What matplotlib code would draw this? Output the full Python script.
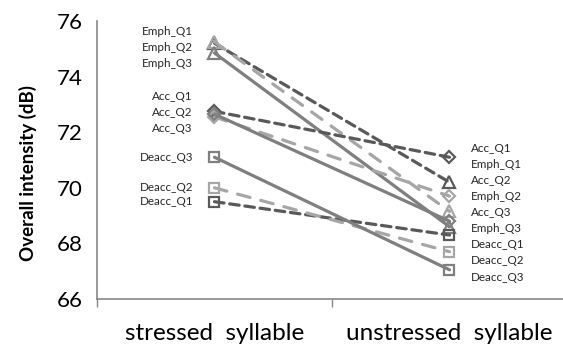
import matplotlib
matplotlib.use("Agg")
import matplotlib.pyplot as plt

# ───────────── data ─────────────
categories = ["stressed  syllable", "unstressed  syllable"]

emph_q1 = [75.2, 70.2]
emph_q2 = [75.25, 69.15]
emph_q3 = [74.85, 68.6]
acc_q1 = [72.75, 71.1]
acc_q2 = [72.55, 69.7]
acc_q3 = [72.65, 68.8]
deacc_q1 = [69.5, 68.3]
deacc_q2 = [70.0, 67.7]
deacc_q3 = [71.1, 67.05]

series = {
    "Emph_Q1": emph_q1, "Emph_Q2": emph_q2, "Emph_Q3": emph_q3,
    "Acc_Q1": acc_q1, "Acc_Q2": acc_q2, "Acc_Q3": acc_q3,
    "Deacc_Q1": deacc_q1, "Deacc_Q2": deacc_q2, "Deacc_Q3": deacc_q3,
}

# ───────────── styles ─────────────
DARK, LIGHT, MID = "#595959", "#a6a6a6", "#7f7f7f"
q_style = {
    "Q1": dict(color=DARK, linestyle=(0, (3.0, 1.8))),
    "Q2": dict(color=LIGHT, linestyle=(0, (4.0, 3.5))),
    "Q3": dict(color=MID, linestyle="-"),
}
group_marker = {"Emph": "^", "Acc": "D", "Deacc": "s"}
marker_size = {"^": 9, "D": 6.5, "s": 7.5}

plt.rcParams["font.family"] = ["Lato", "DejaVu Sans"]

fig = plt.figure(figsize=(5.63, 3.44), dpi=100)
W, H = 563, 344
ax = fig.add_axes([97 / W, (H - 299) / H, 470 / W, 278 / H])

x = list(range(len(categories)))
for name, vals in series.items():
    group, q = name.split("_")
    st = q_style[q]
    mk = group_marker[group]
    ax.plot(x, vals, color=st["color"], linestyle=st["linestyle"], lw=2.3,
            dash_capstyle="round", solid_capstyle="round",
            marker=mk, markersize=marker_size[mk], markerfacecolor="none",
            markeredgecolor=st["color"], markeredgewidth=1.6, zorder=3)

# ───────────── point labels ─────────────
label_fs = 8.4
step = 0.58
left_x = -0.092
left_stacks = [
    (["Emph_Q1", "Emph_Q2", "Emph_Q3"], 75.04),
    (["Acc_Q1", "Acc_Q2", "Acc_Q3"], 72.71),
]
for names, center in left_stacks:
    for i, name in enumerate(names):
        ax.text(left_x, center + (1 - i) * step, name, ha="right", va="center",
                fontsize=label_fs, color="#262626")
for name in ["Deacc_Q3", "Deacc_Q2", "Deacc_Q1"]:
    ax.text(left_x, series[name][0], name, ha="right", va="center",
            fontsize=label_fs, color="#262626")

right_order = sorted(series, key=lambda n: -series[n][1])
for i, name in enumerate(right_order):
    ax.text(1.091, 71.43 - i * step, name, ha="left", va="center",
            fontsize=label_fs, color="#262626")

# ───────────── axes ─────────────
ax.set_xlim(-0.5, 1.5)
ax.set_ylim(66, 76)
ax.set_yticks(range(66, 77, 2))
ax.tick_params(axis="y", length=0, labelsize=16, pad=10)
ax.set_xticks([-0.5, 0.5, 1.5])
ax.set_xticklabels([])
ax.tick_params(axis="x", length=6, width=1, color="#878787")
for i, cat in enumerate(categories):
    ax.text(i, 64.75, cat, ha="center", va="center", fontsize=17.5,
            color="black", clip_on=False)

for side in ("top", "right"):
    ax.spines[side].set_visible(False)
for side in ("left", "bottom"):
    ax.spines[side].set_color("#878787")
    ax.spines[side].set_linewidth(1.2)

ax.set_ylabel("Overall intensity (dB)", fontsize=13.5, fontweight="bold")
ax.yaxis.set_label_coords(-0.128, 0.455)

fig.savefig("out.png", dpi=100)
